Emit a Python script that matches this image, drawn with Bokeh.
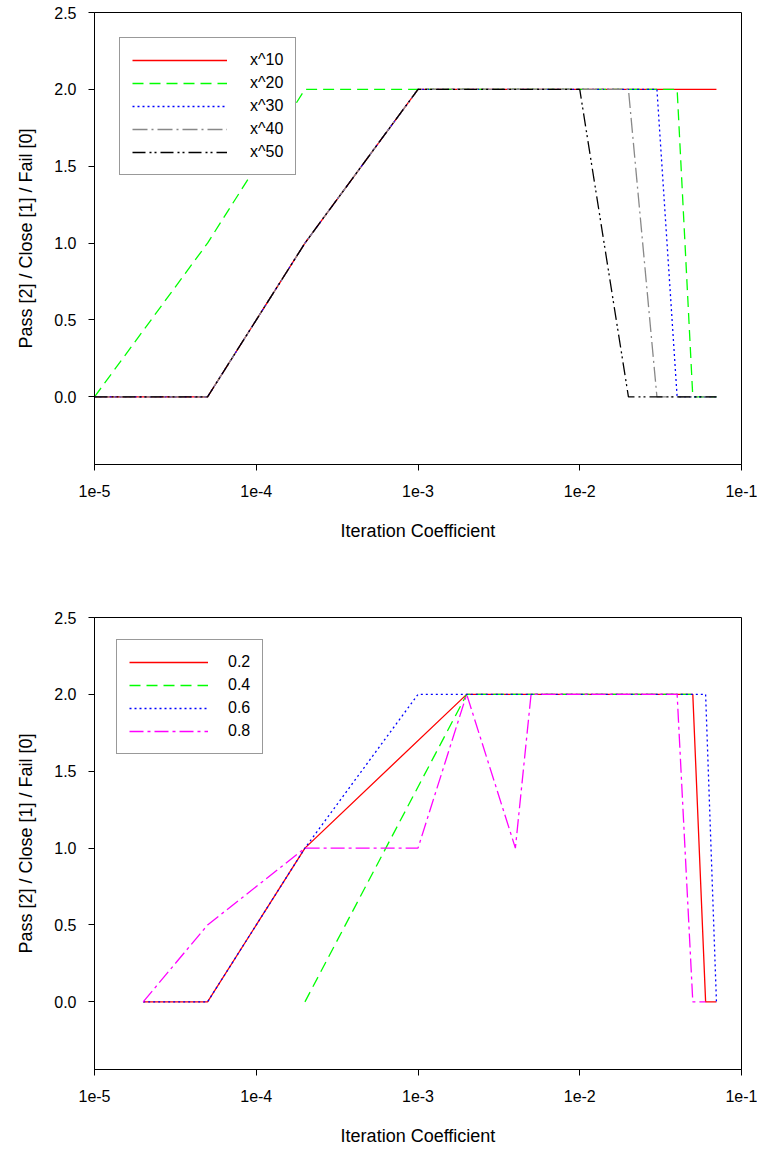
from bokeh.plotting import figure
from bokeh.layouts import column
from bokeh.models import Range1d, FixedTicker, PrintfTickFormatter, Legend, LegendItem
from bokeh.embed import file_html
from bokeh.resources import INLINE

# ---- data: top panel (exponent) ----
top_names = ["x^10", "x^20", "x^30", "x^40", "x^50"]
x10_x = [1e-5, 5e-5, 2e-4, 1e-3, 7e-2]
x10_y = [0, 0, 1, 2, 2]
x20_x = [1e-5, 5e-5, 2e-4, 4e-2, 5e-2, 7e-2]
x20_y = [0, 1, 2, 2, 0, 0]
x30_x = [1e-5, 5e-5, 2e-4, 1e-3, 3e-2, 4e-2, 7e-2]
x30_y = [0, 0, 1, 2, 2, 0, 0]
x40_x = [1e-5, 5e-5, 2e-4, 1e-3, 2e-2, 3e-2, 7e-2]
x40_y = [0, 0, 1, 2, 2, 0, 0]
x50_x = [1e-5, 5e-5, 2e-4, 1e-3, 1e-2, 2e-2, 7e-2]
x50_y = [0, 0, 1, 2, 2, 0, 0]

# ---- data: bottom panel (factor) ----
bot_names = ["0.2", "0.4", "0.6", "0.8"]
f02_x = [2e-5, 5e-5, 2e-4, 2e-3, 5e-2, 6e-2, 7e-2]
f02_y = [0, 0, 1, 2, 2, 0, 0]
f04_x = [2e-4, 2e-3, 5e-2]
f04_y = [0, 2, 2]
f06_x = [2e-5, 5e-5, 2e-4, 1e-3, 6e-2, 7e-2]
f06_y = [0, 0, 1, 2, 2, 0]
f08_x = [2e-5, 5e-5, 2e-4, 1e-3, 2e-3, 4e-3, 5e-3, 4e-2, 5e-2, 6e-2]
f08_y = [0, 0.5, 1, 1, 2, 1, 2, 2, 0, 0]

x_ticks = [1e-5, 1e-4, 1e-3, 1e-2, 1e-1]
x_tick_labels = ["1e-5", "1e-4", "1e-3", "1e-2", "1e-1"]
y_ticks = [0.0, 0.5, 1.0, 1.5, 2.0, 2.5]

FONT = "Liberation Sans"
LW = 1.3


def make_fig(border_top, border_bottom, height):
    p = figure(width=757, height=height, x_axis_type="log",
               x_range=Range1d(1e-5, 1e-1), y_range=Range1d(-0.44, 2.5),
               output_backend="svg", toolbar_location=None,
               min_border_left=94, min_border_right=16,
               min_border_top=border_top, min_border_bottom=border_bottom,
               background_fill_color="white", border_fill_color="white")
    p.xgrid.visible = False
    p.ygrid.visible = False
    p.outline_line_color = "black"
    p.outline_line_width = 1
    p.outline_line_alpha = 1.0

    p.xaxis.ticker = FixedTicker(ticks=x_ticks, minor_ticks=[])
    p.xaxis.major_label_overrides = {t: l for t, l in zip(x_ticks, x_tick_labels)}
    p.yaxis.ticker = FixedTicker(ticks=y_ticks, minor_ticks=[])
    p.yaxis.formatter = PrintfTickFormatter(format="%.1f")

    for ax in (p.xaxis[0], p.yaxis[0]):
        ax.axis_line_color = "black"
        ax.major_tick_line_color = "black"
        ax.major_tick_in = 0
        ax.major_tick_out = 6
        ax.minor_tick_line_color = None
        ax.major_label_text_font = FONT
        ax.major_label_text_font_size = "16px"
        ax.major_label_text_color = "black"
        ax.axis_label_text_font = FONT
        ax.axis_label_text_font_size = "18px"
        ax.axis_label_text_font_style = "normal"
        ax.axis_label_text_color = "black"

    p.xaxis.axis_label = "Iteration Coefficient"
    p.yaxis.axis_label = "Pass [2] / Close [1] / Fail [0]"
    p.xaxis.major_label_standoff = 14
    p.xaxis.axis_label_standoff = 21
    p.yaxis.major_label_standoff = 12
    p.yaxis.axis_label_standoff = 15
    return p


def style_legend(leg, glyph_w, standoff):
    leg.location = "top_left"
    leg.margin = 25
    leg.padding = 12
    leg.spacing = 3
    leg.glyph_width = glyph_w
    leg.glyph_height = 20
    leg.label_height = 20
    leg.label_standoff = standoff
    leg.label_text_font = FONT
    leg.label_text_font_size = "16px"
    leg.label_text_color = "black"
    leg.border_line_color = "#333333"
    leg.border_line_width = 1
    leg.background_fill_color = "white"
    leg.background_fill_alpha = 1.0


def add_series(p, names, series):
    items = []
    for name, (xs, ys, col, dash) in zip(names, series):
        r = p.line(xs, ys, line_color=col, line_width=LW, line_dash=dash)
        items.append(LegendItem(label=name, renderers=[r]))
    return items


# ---- top panel ----
p1 = make_fig(12, 111, 575)
top_series = [
    (x10_x, x10_y, "#ff0000", "solid"),
    (x20_x, x20_y, "#00ff00", "11 6"),
    (x30_x, x30_y, "#0000ff", "2 3"),
    (x40_x, x40_y, "#888888", "15 4 2 4"),
    (x50_x, x50_y, "#000000", "13 4 2 3 2 4"),
]
leg1 = Legend(items=add_series(p1, top_names, top_series))
style_legend(leg1, 95, 23)
p1.add_layout(leg1, "center")

# ---- bottom panel ----
p2 = make_fig(42, 80, 574)
bot_series = [
    (f02_x, f02_y, "#ff0000", "solid"),
    (f04_x, f04_y, "#00ff00", "11 6"),
    (f06_x, f06_y, "#0000ff", "2 3"),
    (f08_x, f08_y, "#ff00ff", "14 4 3 4"),
]
leg2 = Legend(items=add_series(p2, bot_names, bot_series))
style_legend(leg2, 79, 20)
leg2.margin = 22
p2.add_layout(leg2, "center")

layout = column(p1, p2, spacing=0)
open("out.html", "w").write(file_html(layout, INLINE))
